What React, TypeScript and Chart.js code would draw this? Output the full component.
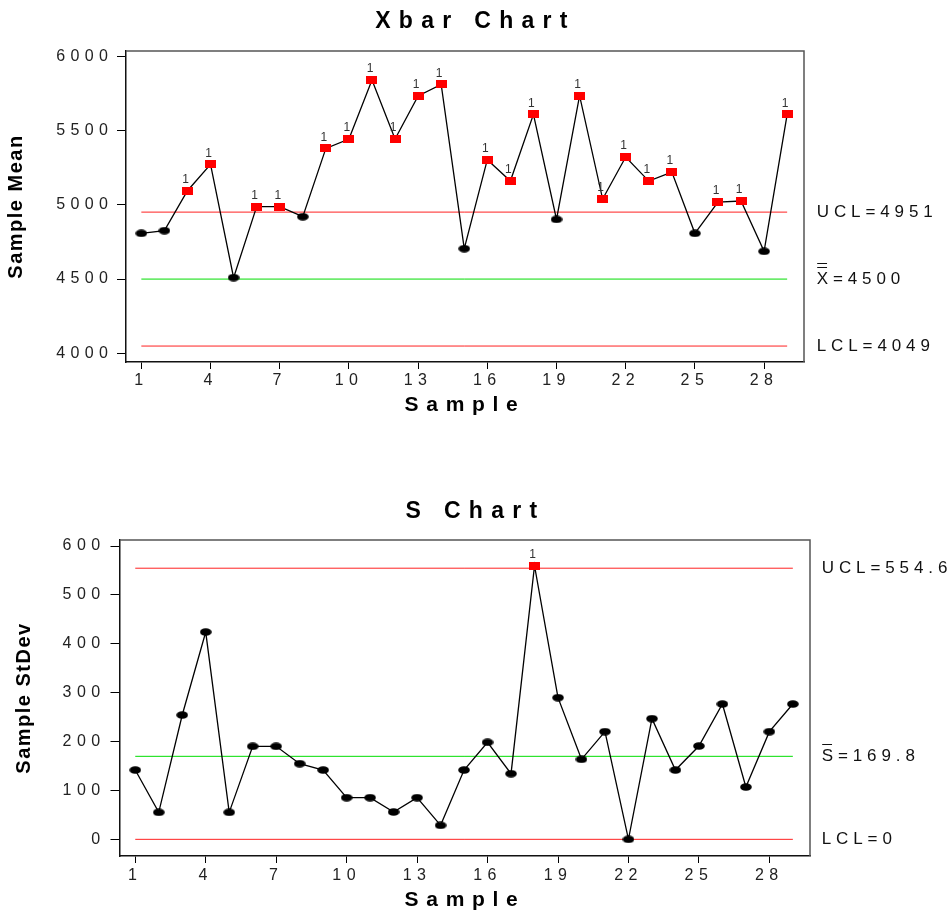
import React, { useEffect, useRef } from 'react';
import { Chart, registerables } from 'chart.js';

Chart.register(...registerables);

// ---------- data ----------
const samples = [1, 2, 3, 4, 5, 6, 7, 8, 9, 10, 11, 12, 13, 14, 15, 16, 17, 18, 19, 20, 21, 22, 23, 24, 25, 26, 27, 28, 29];
const xTickValues = [1, 4, 7, 10, 13, 16, 19, 22, 25, 28];

const meanValues = [4808, 4826, 5095, 5273, 4510, 4988, 4988, 4920, 5380, 5443, 5841, 5443, 5733, 5811, 4705, 5304, 5160, 5609, 4902, 5735, 5039, 5322, 5160, 5221, 4808, 5019, 5026, 4687, 5609];
const meanTicks = [4000, 4500, 5000, 5500, 6000];
const meanUCL = 4951;
const meanCenter = 4500;
const meanLCL = 4049;

const stdevValues = [141.8, 55.2, 254.3, 424, 55.2, 190.2, 190.2, 154.8, 141.8, 85.2, 85.2, 56, 85.2, 28.6, 141.8, 198.4, 134.3, 559.8, 289.8, 163.6, 220.2, 0, 246.8, 141.8, 190.9, 276.8, 107, 220.2, 276.8];
const stdevTicks = [0, 100, 200, 300, 400, 500, 600];
const stdevUCL = 554.6;
const stdevCenter = 169.8;
const stdevLCL = 0;

// ---------- styling helpers ----------
const FONT = '"Liberation Sans", Arial, Helvetica, sans-serif';
const spacingBySize: Record<number, number> = { 23: 8.3, 21: 7.7, 20: 1.5, 17: 4.9, 16: 5.4 };

function installLetterSpacing(ctx: any) {
  const base = CanvasRenderingContext2D.prototype.fillText;
  ctx.fillText = function (text: string, x: number, y: number, maxWidth?: number) {
    const m = /(\d+(?:\.\d+)?)px/.exec(this.font);
    const sp = m ? spacingBySize[Math.round(parseFloat(m[1]))] || 0 : 0;
    this.letterSpacing = sp + 'px';
    if (maxWidth === undefined) base.call(this, text, x, y);
    else base.call(this, text, x, y, maxWidth);
    this.letterSpacing = '0px';
  };
}

function makeMarker(kind: 'ellipse' | 'rect'): HTMLCanvasElement {
  const c = document.createElement('canvas');
  if (kind === 'ellipse') {
    c.width = 12;
    c.height = 8;
    const g = c.getContext('2d')!;
    g.fillStyle = '#000';
    g.beginPath();
    g.ellipse(6, 4, 5.8, 3.8, 0, 0, Math.PI * 2);
    g.fill();
  } else {
    c.width = 11;
    c.height = 8;
    const g = c.getContext('2d')!;
    g.fillStyle = '#ff0000';
    g.fillRect(0, 0, 11, 8);
  }
  return c;
}

type Props = {
  title: string;
  yTitle: string;
  values: number[];
  ucl: number;
  center: number;
  lcl: number;
  sym: string;
  barOffsets: number[];
  yMin: number;
  yMax: number;
  yTicks: number[];
  top: number;
  height: number;
  yAxisWidth: number;
  rightWidth: number;
  xAxisHeight: number;
  titlePad: { top: number; bottom: number };
  yTitlePad: number;
  xTitlePad: number;
  yTickPad: number;
  yTickLen: number;
  xTickPad: number;
  xMin: number;
  xMax: number;
  labelGap: number;
};

function ControlChart(p: Props) {
  const ref = useRef<HTMLCanvasElement>(null);
  useEffect(() => {
    const canvas = ref.current!;
    const ctx = canvas.getContext('2d')!;
    installLetterSpacing(ctx);
    const ellipse = makeMarker('ellipse');
    const rect = makeMarker('rect');
    const first = samples[0];
    const last = samples[samples.length - 1];

    const extras = {
      id: 'extras',
      afterDatasetsDraw(chart: any) {
        const c = chart.ctx;
        const a = chart.chartArea;
        const yScale = chart.scales.y;
        c.save();
        c.strokeStyle = '#555';
        c.lineWidth = 1.5;
        c.beginPath();
        c.moveTo(a.left, a.top);
        c.lineTo(a.right, a.top);
        c.lineTo(a.right, a.bottom);
        c.stroke();

        const meta = chart.getDatasetMeta(0);
        c.font = `12px ${FONT}`;
        c.fillStyle = '#333';
        c.textAlign = 'center';
        c.textBaseline = 'middle';
        meta.data.forEach((el: any, i: number) => {
          if (p.values[i] > p.ucl) c.fillText('1', el.x - 2, el.y - 11);
        });

        c.font = `17px ${FONT}`;
        c.fillStyle = '#111';
        c.textAlign = 'left';
        const lx = a.right + p.labelGap;
        const items: [string, number][] = [
          [`UCL=${p.ucl}`, p.ucl],
          [`${p.sym}=${p.center}`, p.center],
          [`LCL=${p.lcl}`, p.lcl],
        ];
        items.forEach(([t, v]) => c.fillText(t, lx, yScale.getPixelForValue(v)));
        c.letterSpacing = '0px';
        const w = c.measureText(p.sym).width;
        const cy = yScale.getPixelForValue(p.center);
        c.strokeStyle = '#111';
        c.lineWidth = 1;
        p.barOffsets.forEach((off) => {
          c.beginPath();
          c.moveTo(lx + 0.5, Math.round(cy + off) + 0.5);
          c.lineTo(lx + w - 1, Math.round(cy + off) + 0.5);
          c.stroke();
        });
        c.restore();
      },
    };

    const limitLine = (v: number, color: string) => ({
      data: [{ x: first, y: v }, { x: last, y: v }],
      borderColor: color,
      borderWidth: 1,
      pointRadius: 0,
      fill: false,
    });

    const chart = new Chart(ctx as any, {
      type: 'line',
      data: {
        datasets: [
          {
            data: samples.map((s, i) => ({ x: s, y: p.values[i] })),
            borderColor: '#000',
            borderWidth: 1.3,
            tension: 0,
            fill: false,
            pointStyle: ((c: any) => (p.values[c.dataIndex] > p.ucl ? rect : ellipse)) as any,
            pointRadius: 5,
          },
          limitLine(p.ucl, '#ff2020'),
          limitLine(p.center, '#00dd00'),
          limitLine(p.lcl, '#ff2020'),
        ] as any,
      },
      options: {
        animation: false,
        responsive: false,
        maintainAspectRatio: false,
        devicePixelRatio: 1,
        events: [],
        layout: { padding: 0 },
        plugins: {
          legend: { display: false },
          tooltip: { enabled: false },
          title: {
            display: true,
            text: p.title,
            color: '#000',
            font: { family: FONT, size: 23, weight: 'bold' },
            padding: p.titlePad,
          },
        },
        scales: {
          x: {
            type: 'linear',
            min: p.xMin,
            max: p.xMax,
            afterBuildTicks: (s: any) => {
              s.ticks = xTickValues.map((v) => ({ value: v }));
            },
            afterFit: (s: any) => {
              s.height = p.xAxisHeight;
            },
            ticks: {
              autoSkip: false,
              maxRotation: 0,
              minRotation: 0,
              padding: p.xTickPad,
              color: '#222',
              font: { family: FONT, size: 16 },
              callback: (v: any) => String(v),
            },
            grid: { display: true, drawOnChartArea: false, drawTicks: true, tickLength: 7, color: '#000', lineWidth: 1 },
            border: { display: true, color: '#111', width: 1.5 },
            title: {
              display: true,
              text: 'Sample',
              color: '#000',
              font: { family: FONT, size: 21, weight: 'bold' },
              padding: { top: 0, bottom: p.xTitlePad },
            },
          },
          y: {
            type: 'linear',
            position: 'left',
            min: p.yMin,
            max: p.yMax,
            afterBuildTicks: (s: any) => {
              s.ticks = p.yTicks.map((v) => ({ value: v }));
            },
            afterFit: (s: any) => {
              s.width = p.yAxisWidth;
            },
            ticks: {
              padding: p.yTickPad,
              color: '#222',
              font: { family: FONT, size: 16 },
              callback: (v: any) => String(v),
            },
            grid: { display: true, drawOnChartArea: false, drawTicks: true, tickLength: p.yTickLen, color: '#000', lineWidth: 1 },
            border: { display: true, color: '#111', width: 1.5 },
            title: {
              display: true,
              text: p.yTitle,
              color: '#000',
              font: { family: FONT, size: 20, weight: 'bold' },
              padding: { top: p.yTitlePad, bottom: 0 },
            },
          },
          yRight: {
            type: 'linear',
            position: 'right',
            display: true,
            afterFit: (s: any) => {
              s.width = p.rightWidth;
            },
            ticks: { display: false },
            grid: { display: false, drawTicks: false },
            border: { display: false },
          },
        },
      } as any,
      plugins: [extras],
    });
    return () => chart.destroy();
  }, []);

  return (
    <div style={{ position: 'absolute', left: 0, top: p.top, width: 951, height: p.height }}>
      <canvas ref={ref} width={951} height={p.height} style={{ display: 'block', width: 951, height: p.height }} />
    </div>
  );
}

export default function App() {
  return (
    <div style={{ position: 'absolute', left: 0, top: 0, width: 951, height: 915, background: '#fff' }}>
      <ControlChart
        title="Xbar Chart"
        yTitle="Sample Mean"
        values={meanValues}
        ucl={meanUCL}
        center={meanCenter}
        lcl={meanLCL}
        sym="X"
        barOffsets={[-16, -12.5]}
        yMin={3941.6}
        yMax={6036}
        yTicks={meanTicks}
        top={0}
        height={450}
        yAxisWidth={126}
        rightWidth={147}
        xAxisHeight={88}
        titlePad={{ top: 8, bottom: 15.4 }}
        yTitlePad={4.4}
        xTitlePad={32.4}
        yTickPad={3.6}
        yTickLen={9}
        xTickPad={2.4}
        xMin={0.335}
        xMax={29.73}
        labelGap={12.7}
      />
      <ControlChart
        title="S Chart"
        yTitle="Sample StDev"
        values={stdevValues}
        ucl={stdevUCL}
        center={stdevCenter}
        lcl={stdevLCL}
        sym="S"
        barOffsets={[-12.5]}
        yMin={-34.1}
        yMax={612.3}
        yTicks={stdevTicks}
        top={450}
        height={465}
        yAxisWidth={120}
        rightWidth={141}
        xAxisHeight={59}
        titlePad={{ top: 47.5, bottom: 14.9 }}
        yTitlePad={12.8}
        xTitlePad={2.4}
        yTickPad={5}
        yTickLen={9.5}
        xTickPad={2.9}
        xMin={0.35}
        xMax={29.73}
        labelGap={11.7}
      />
    </div>
  );
}
